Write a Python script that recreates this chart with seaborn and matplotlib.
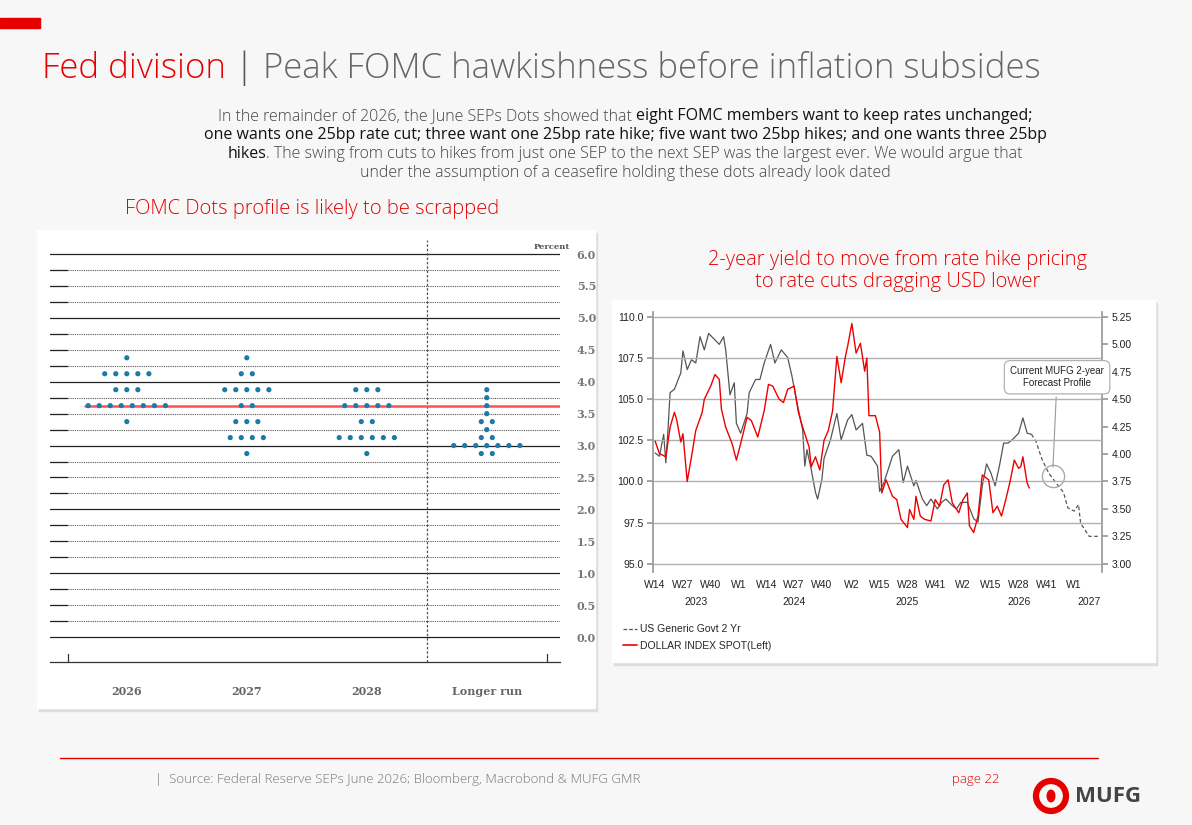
import matplotlib
matplotlib.use("Agg")
import matplotlib.pyplot as plt
import matplotlib.patches as mpatches
from matplotlib.lines import Line2D
import numpy as np
import pandas as pd
import seaborn as sns

sns.set_theme(style="white")
plt.rcParams['font.family'] = ['Open Sans', 'DejaVu Sans']

# ---------------- data ----------------
dot_cats = ["2026", "2027", "2028", "Longer run"]
dot_rates = {
    "2026": [4.375, 4.125, 3.875, 3.625, 3.375],
    "2027": [4.375, 4.125, 3.875, 3.625, 3.375, 3.125, 2.875],
    "2028": [3.875, 3.625, 3.375, 3.125, 2.875],
    "Longer run": [3.875, 3.75, 3.625, 3.5, 3.375, 3.25, 3.125, 3.0, 2.875],
}
dot_counts = {
    "2026": [1, 5, 3, 8, 1],
    "2027": [1, 2, 5, 2, 3, 4, 1],
    "2028": [3, 5, 2, 6, 1],
    "Longer run": [1, 1, 1, 1, 2, 1, 2, 7, 2],
}
current_rate = 3.625

dxy_week = [0,2,5,7,9,10,12,13,15,17,19,22,23,26,28,30,31,33,36,38,40,43,45,48,51,53,55,58,60,62,65,67,69,72,73,75,77,79,81,83,85,87,89,90,92,94,96,98,99,100,103,105,106,108,111,113,115,118,119,121,122,124,126,129,131,133,135,137,139,142,144,146,147,149,151,153,156,158,160,162,164,166,168,170,171,172,174,175]
dxy_val = [102.45,101.7,101.5,103.3,104.2,103.8,102.4,102.9,100.0,101.5,103.1,104.2,105.0,105.8,106.5,106.2,104.4,103.3,102.3,101.3,102.3,103.9,103.7,102.7,104.3,105.9,105.8,105.0,104.8,105.6,105.8,104.2,103.3,102.1,100.9,101.5,100.7,102.5,103.1,104.3,107.6,106.0,107.6,108.2,109.6,107.8,108.4,106.7,107.5,104.0,104.0,103.0,99.3,100.1,99.1,98.9,97.7,97.2,98.3,97.7,99.1,97.9,97.7,97.6,98.9,98.5,99.8,100.1,98.7,98.1,98.9,99.3,97.3,96.9,97.9,100.4,100.1,98.1,98.5,97.9,98.9,100.0,101.3,100.8,100.9,101.5,99.9,99.6]

ust_week = [0,2,4,5,6,7,9,12,13,15,17,19,21,23,25,27,30,32,33,35,37,38,40,43,44,47,49,51,54,56,59,62,64,66,69,70,71,73,75,76,78,79,82,85,87,90,92,94,97,99,101,104,105,107,109,111,114,116,118,121,122,125,127,129,132,134,136,139,141,143,146,149,151,153,155,157,159,161,163,165,167,170,172,174,176]
ust_val = [4.01,3.98,4.18,3.92,4.22,4.56,4.59,4.74,4.94,4.77,4.86,4.83,5.07,4.95,5.10,5.06,5.00,5.07,4.95,4.54,4.65,4.28,4.19,4.37,4.56,4.68,4.68,4.83,5.00,4.83,4.95,4.88,4.71,4.50,4.22,3.89,4.04,3.86,3.65,3.59,3.77,3.96,4.13,4.37,4.13,4.31,4.36,4.22,4.28,3.99,3.98,3.89,3.66,3.74,3.86,3.98,4.04,3.74,3.89,3.71,3.76,3.59,3.53,3.59,3.50,3.56,3.59,3.53,3.50,3.56,3.56,3.41,3.38,3.71,3.91,3.83,3.71,3.89,4.10,4.10,4.13,4.19,4.33,4.19,4.18]

fc_week = [176,178,181,184,187,191,193,196,198,199,203,207]
fc_val = [4.18,4.12,3.95,3.83,3.75,3.65,3.51,3.48,3.54,3.37,3.25,3.25]

x_tick_pos = [0,13,26,39,52,65,78,92,105,118,131,144,157,170,183,196]
x_tick_lab = ["W14","W27","W40","W1","W14","W27","W40","W2","W15","W28","W41","W2","W15","W28","W41","W1"]
year_pos = [19,65,118,170,203]
year_lab = ["2023","2024","2025","2026","2027"]

W, H = 1192, 825
fig = plt.figure(figsize=(W/100, H/100), dpi=100)
fig.patch.set_facecolor("#f7f7f7")

def fx(x): return x / W
def fy(y): return 1 - y / H

RED = "#e60000"

fig.patches.append(mpatches.Rectangle((0, fy(28)), fx(40), 10/H, transform=fig.transFigure, color=RED))

renderer = fig.canvas.get_renderer()

def seg_line(segs, y, cx=None, x0=None, size=12):
    texts = []
    for s, c, w in segs:
        t = fig.text(0, fy(y), s, color=c, fontsize=size, fontweight=w, va="baseline", ha="left")
        texts.append(t)
    widths = [t.get_window_extent(renderer).width for t in texts]
    total = sum(widths)
    x = (cx - total / 2) if cx is not None else x0
    for t, wd in zip(texts, widths):
        t.set_x(fx(x))
        x += wd

seg_line([("Fed division", RED, "light"), (" | ", "#555555", "light"),
          ("Peak FOMC hawkishness before inflation subsides", "#666666", "light")], 78, x0=42, size=25)

PG, PK = "#444444", "#111111"
seg_line([("In the remainder of 2026, the June SEPs Dots showed that ", PG, "light"),
          ("eight FOMC members want to keep rates unchanged;", PK, "normal")], 120, cx=625, size=11.5)
seg_line([("one wants one 25bp rate cut; three want one 25bp rate hike; five want two 25bp hikes; and one wants three 25bp", PK, "normal")], 139, cx=625, size=11.5)
seg_line([("hikes", PK, "normal"),
          (". The swing from cuts to hikes from just one SEP to the next SEP was the largest ever. We would argue that", PG, "light")], 158, cx=625, size=11.5)
seg_line([("under the assumption of a ceasefire holding these dots already look dated", PG, "light")], 177, cx=625, size=11.5)

fig.text(fx(312), fy(209), "FOMC Dots profile is likely to be scrapped", color=RED, fontsize=14.5,
         ha="center", va="center", fontweight="light")
fig.text(fx(898), fy(271), "2-year yield to move from rate hike pricing\nto rate cuts dragging USD lower",
         color=RED, fontsize=14.5, ha="center", va="center", linespacing=1.2, fontweight="light")

for (x0, y0, x1, y1) in [(37, 230, 595, 708), (612, 300, 1155, 662)]:
    fig.patches.append(mpatches.Rectangle((fx(x0+2), fy(y1+3)), fx(x1-x0), (y1-y0)/H,
                                          transform=fig.transFigure, color="#dddddd", zorder=-2))
    fig.patches.append(mpatches.Rectangle((fx(x0), fy(y1)), fx(x1-x0), (y1-y0)/H,
                                          transform=fig.transFigure, color="white", zorder=-1))

# ---------------- dot plot ----------------
ax = fig.add_axes([fx(50), fy(662), fx(510), (662-240)/H])
ax.set_facecolor("none")
rows = []
for ci, c in enumerate(dot_cats):
    for r, n in zip(dot_rates[c], dot_counts[c]):
        for i in range(n):
            rows.append({"x": ci + (i - (n - 1) / 2) * 0.092, "y": r})
dots = pd.DataFrame(rows)
ax.set_xlim(-0.64, 3.61)
ax.set_ylim(-0.39, 6.22)
for v in np.arange(0, 6.01, 0.25):
    if abs(v - round(v)) < 1e-6:
        ax.axhline(v, color="#222222", lw=0.9, zorder=1)
    else:
        ax.axhline(v, color="#555555", lw=0.8, ls=(0, (1, 1)), zorder=1)
        ax.plot([-0.64, -0.5], [v, v], color="#222222", lw=0.9, zorder=1)
ax.axhline(current_rate, xmin=(0 - 0.35 + 0.64) / 4.25, color="#ff5050", lw=1.8, zorder=2)
ax.axvline(2.5, color="#555555", lw=0.9, ls=(0, (2, 1.5)), zorder=1)
sns.scatterplot(data=dots, x="x", y="y", ax=ax, color="#1a7aa8", s=14, edgecolor="none", zorder=3)
ax.set_xticks(range(4))
ax.set_xticklabels(dot_cats, fontfamily="DejaVu Serif", fontweight="bold", color="#666666", fontsize=8)
ax.tick_params(axis="x", length=0, pad=17)
ax.yaxis.tick_right()
ax.set_yticks(np.arange(0, 6.01, 0.5))
ax.set_yticklabels([f"{v:.1f}" for v in np.arange(0, 6.01, 0.5)], fontfamily="DejaVu Serif",
                   fontweight="bold", color="#777777", fontsize=8)
ax.tick_params(axis="y", length=0, pad=12)
ax.set_xlabel(""); ax.set_ylabel("")
for s in ["top", "left", "right"]:
    ax.spines[s].set_visible(False)
ax.spines["bottom"].set_color("#333333")
ax.spines["bottom"].set_linewidth(0.9)
for xv in [-0.49, 3.5]:
    ax.plot([xv, xv], [-0.39, -0.27], color="#333333", lw=0.9, clip_on=False)
fig.text(fx(552), fy(247), "Percent", fontsize=6, fontfamily="DejaVu Serif", fontweight="bold",
         color="#555555", ha="center", va="center")

# ---------------- time series ----------------
ax2 = fig.add_axes([fx(653), fy(572), fx(449), (572-312)/H])
ax2.set_facecolor("none")
ax2.set_xlim(-1, 209)
ax2.set_ylim(94.5, 110.3)
for v in [95, 97.5, 100, 102.5, 105, 107.5, 110]:
    ax2.axhline(v, color="#b0b0b0", lw=1.0, zorder=0)
axr = ax2.twinx()
axr.set_ylim(3 + (94.5 - 95) * 0.15, 3 + (110.3 - 95) * 0.15)
sns.lineplot(x=ust_week, y=ust_val, ax=axr, color="#555555", lw=0.9)
sns.lineplot(x=fc_week, y=fc_val, ax=axr, color="#555555", lw=0.9, linestyle=(0, (3, 2)))
sns.lineplot(x=dxy_week, y=dxy_val, ax=ax2, color="#ee0000", lw=1.0)
ax2.set_zorder(axr.get_zorder() + 1)
ax2.patch.set_visible(False)
axr.patch.set_visible(False)
ax2.set_yticks([95, 97.5, 100, 102.5, 105, 107.5, 110])
ax2.set_yticklabels(["95.0", "97.5", "100.0", "102.5", "105.0", "107.5", "110.0"], fontsize=7.5,
                    color="#222222", fontfamily="Liberation Sans")
axr.set_yticks([3.0, 3.25, 3.5, 3.75, 4.0, 4.25, 4.5, 4.75, 5.0, 5.25])
axr.set_yticklabels([f"{v:.2f}" for v in [3.0, 3.25, 3.5, 3.75, 4.0, 4.25, 4.5, 4.75, 5.0, 5.25]],
                    fontsize=7.5, color="#222222", fontfamily="Liberation Sans")
ax2.set_xticks(x_tick_pos)
ax2.set_xticklabels(x_tick_lab, fontsize=7.5, color="#222222", fontfamily="Liberation Sans")
ax2.tick_params(axis="x", length=0, pad=6)
ax2.tick_params(axis="y", length=4, color="#999999", direction="out", pad=3, left=True)
axr.tick_params(axis="y", length=4, color="#999999", direction="out", pad=3, right=True)
for yp, yl in zip(year_pos, year_lab):
    ax2.text(yp, -0.095, yl, transform=ax2.get_xaxis_transform(), ha="center", va="top",
             fontsize=7.5, color="#222222", fontfamily="Liberation Sans")
for a in (ax2, axr):
    for s in ["top", "bottom"]:
        a.spines[s].set_visible(False)
    a.spines["left"].set_color("#999999")
    a.spines["right"].set_color("#999999")
    a.set_xlabel(""); a.set_ylabel("")
axr.spines["left"].set_visible(False)
ax2.spines["right"].set_visible(False)

axr.plot([186], [3.80], marker="o", ms=16, mfc="none", mec="#aaaaaa", mew=1)
axr.annotate("Current MUFG 2-year\nForecast Profile", xy=(186, 3.855), xytext=(188, 4.70),
             ha="center", va="center", fontsize=7, color="#222222", fontfamily="Liberation Sans",
             bbox=dict(boxstyle="round,pad=0.6", fc="white", ec="#aaaaaa", lw=0.8),
             arrowprops=dict(arrowstyle="-", color="#999999", lw=0.8))

handles = [Line2D([0], [0], color="#555555", lw=0.9, ls=(0, (3, 1.5))),
           Line2D([0], [0], color="#ee0000", lw=1.2)]
fig.legend(handles, ["US Generic Govt 2 Yr", "DOLLAR INDEX SPOT(Left)"], loc="upper left",
           bbox_to_anchor=(fx(614), fy(615)), frameon=False, handlelength=1.3,
           handletextpad=0.3, labelspacing=0.6, prop={"family": "Liberation Sans", "size": 7.5})

fig.lines.append(Line2D([fx(60), fx(1098)], [fy(758), fy(758)], transform=fig.transFigure, color=RED, lw=1))
fig.text(fx(155), fy(779), "|  Source: Federal Reserve SEPs June 2026; Bloomberg, Macrobond & MUFG GMR",
         fontsize=9.5, color="#777777", va="center", fontweight="light")
fig.text(fx(952), fy(779), "page 22", fontsize=9.5, color=RED, va="center", fontweight="light")
fig.patches.append(mpatches.Ellipse((fx(1051), fy(796)), 30/W, 30/H, transform=fig.transFigure,
                                    fc="none", ec=RED, lw=4.5))
fig.patches.append(mpatches.Ellipse((fx(1051), fy(796)), 9/W, 13/H, transform=fig.transFigure,
                                    fc=RED, ec="none"))
fig.text(fx(1075), fy(797), "MUFG", fontsize=16, fontweight="bold", color="#444444", va="center")

fig.savefig("out.png", dpi=100, facecolor=fig.get_facecolor())
